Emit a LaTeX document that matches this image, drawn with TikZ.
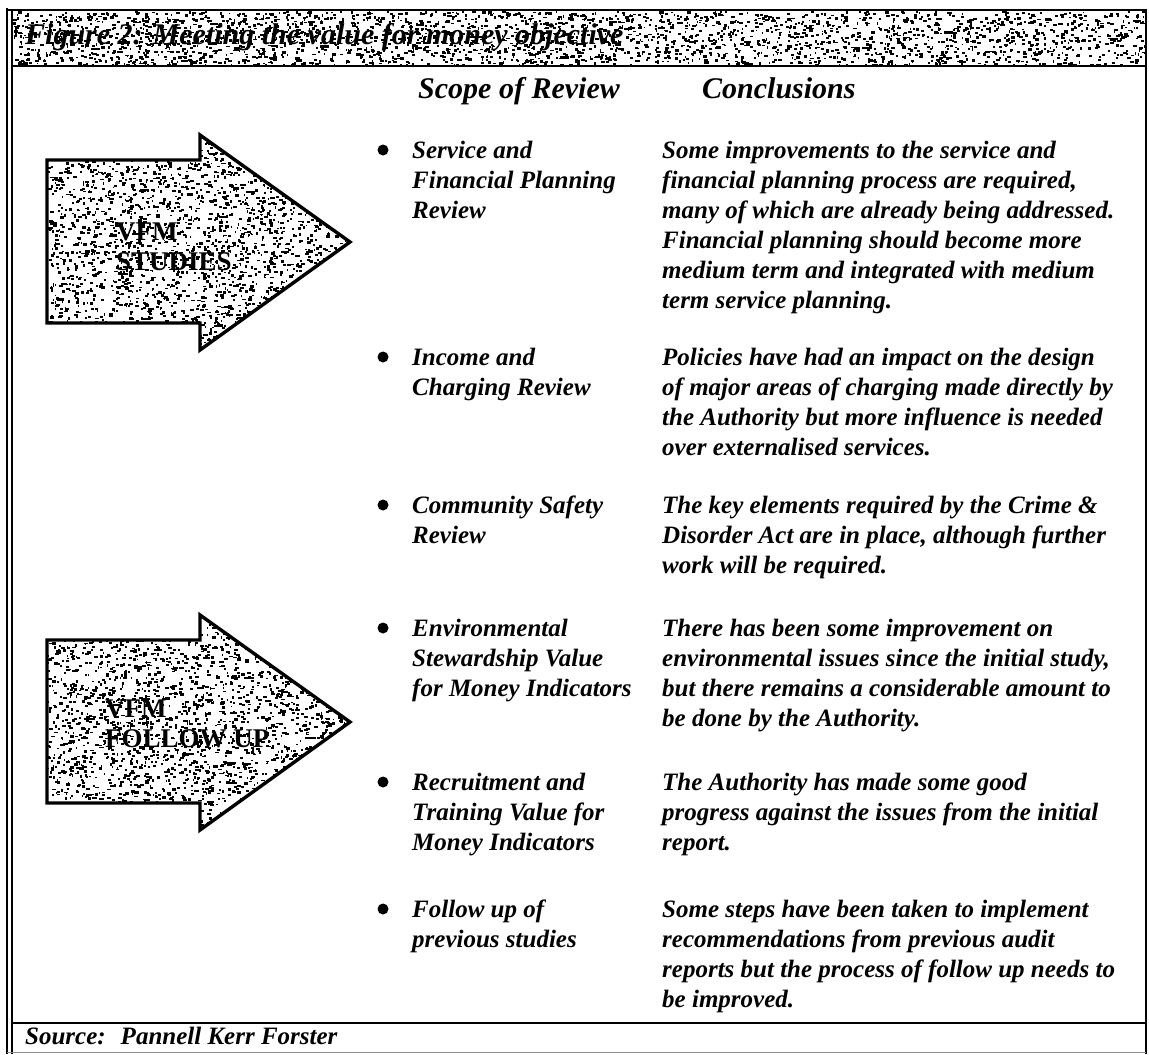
\documentclass[tikz,border=0pt]{standalone}
\usepackage{fontspec}
\setmainfont{Liberation Serif}

\newcommand\bodyfont{\fontsize{25}{30}\selectfont\bfseries\itshape}
\newcommand\headfont{\fontsize{30}{36}\selectfont\bfseries\itshape}
\newcommand\vfmfont{\fontsize{27}{30}\selectfont\bfseries}
% stacked lines whose baseline is that of the first line
\newcommand\textrows[1]{\begin{tabular}[t]{@{}l@{}}#1\end{tabular}}
% random stipple dots inside a box: x0, y0, width, height, count
\newcommand\drawspeckles[5]{%
  \foreach \k in {1,...,#5}{%
    \pgfmathsetmacro\sx{#1+rnd*#3}%
    \pgfmathsetmacro\sy{#2+rnd*#4}%
    \pgfmathsetmacro\sw{1.2+rnd*2.8}%
    \pgfmathsetmacro\sh{1.4+rnd*1.4}%
    \fill[black] (\sx,\sy) rectangle ++(\sw,\sh);
  }}
% outline of a big block arrow
\newcommand\arrowoutline{(47,160) -- (200,160) -- (200,135) -- (350,242) -- (200,350) -- (200,323) -- (47,323) -- cycle}

\tikzset{
  frame/.style={line width=2.4pt, black},
  outline/.style={line width=3.4pt, black, line join=miter},
  body/.style={anchor=base west, inner sep=0pt, font=\bodyfont},
  headtext/.style={anchor=base west, inner sep=0pt, font=\headfont},
  vfmtext/.style={anchor=base west, inner sep=0pt, font=\vfmfont},
  bullet/.style={circle, fill=black, inner sep=0pt, minimum size=11pt},
}

\begin{document}
\begin{tikzpicture}[x=1pt,y=-1pt]
\useasboundingbox (0,0) rectangle (1149,1055);
\fill[white] (0,0) rectangle (1149,1055);
\pgfmathsetseed{1729}

% title band with stipple
\begin{scope}
  \clip (13,11) rectangle (1145,65);
  \drawspeckles{13}{11}{1132}{54}{2900}
\end{scope}

% frame
\draw[frame] (7,8) -- (7,1054);
\draw[frame] (12,10) -- (12,1054);
\draw[frame] (6,10) -- (1146,10);
\draw[frame] (1146,9) -- (1146,1054);
\draw[frame] (12,66) -- (1146,66);
\draw[frame] (12,1023) -- (1146,1023);
\draw[line width=1pt, black!45] (7,1052) -- (1146,1052);

\node[headtext] (title) at (25,44) {Figure 2: Meeting the value for money objective};

% block arrows
\foreach \dy in {0,480}{
  \begin{scope}[shift={(0,\dy)}]
    \begin{scope}
      \clip \arrowoutline;
      \drawspeckles{47}{135}{303}{215}{2700}
    \end{scope}
    \draw[outline] \arrowoutline;
  \end{scope}
}
\node[vfmtext] (vfmstudies) at (116,240) {\textrows{VFM\\STUDIES}};
\node[vfmtext] (vfmfollow) at (105,717) {\textrows{VFM\\FOLLOW UP}};

% column heads
\node[headtext] (scopehead) at (418,98) {Scope of Review};
\node[headtext] (conclhead) at (702,98) {Conclusions};

% rows: bullet, scope, conclusion
\node[bullet] (b1) at (383,150) {};
\node[body] (s1) at (412,158) {\textrows{Service and\\Financial Planning\\Review}};
\node[body] (c1) at (662,158) {\textrows{Some improvements to the service and\\financial planning process are required,\\many of which are already being addressed.\\Financial planning should become more\\medium term and integrated with medium\\term service planning.}};

\node[bullet] (b2) at (383,357) {};
\node[body] (s2) at (412,365) {\textrows{Income and\\Charging Review}};
\node[body] (c2) at (662,365) {\textrows{Policies have had an impact on the design\\of major areas of charging made directly by\\the Authority but more influence is needed\\over externalised services.}};

\node[bullet] (b3) at (383,505) {};
\node[body] (s3) at (412,513) {\textrows{Community Safety\\Review}};
\node[body] (c3) at (662,513) {\textrows{The key elements required by the Crime \&\\Disorder Act are in place, although further\\work will be required.}};

\node[bullet] (b4) at (383,628) {};
\node[body] (s4) at (412,636) {\textrows{Environmental\\Stewardship Value\\for Money Indicators}};
\node[body] (c4) at (662,636) {\textrows{There has been some improvement on\\environmental issues since the initial study,\\but there remains a considerable amount to\\be done by the Authority.}};

\node[bullet] (b5) at (383,782) {};
\node[body] (s5) at (412,790) {\textrows{Recruitment and\\Training Value for\\Money Indicators}};
\node[body] (c5) at (662,790) {\textrows{The Authority has made some good\\progress against the issues from the initial\\report.}};

\node[bullet] (b6) at (383,909) {};
\node[body] (s6) at (412,917) {\textrows{Follow up of\\previous studies}};
\node[body] (c6) at (662,917) {\textrows{Some steps have been taken to implement\\recommendations from previous audit\\reports but the process of follow up needs to\\be improved.}};

% source line
\node[body] (source) at (25,1044) {Source:\hspace{0.6em}Pannell Kerr Forster};
\end{tikzpicture}
\end{document}
